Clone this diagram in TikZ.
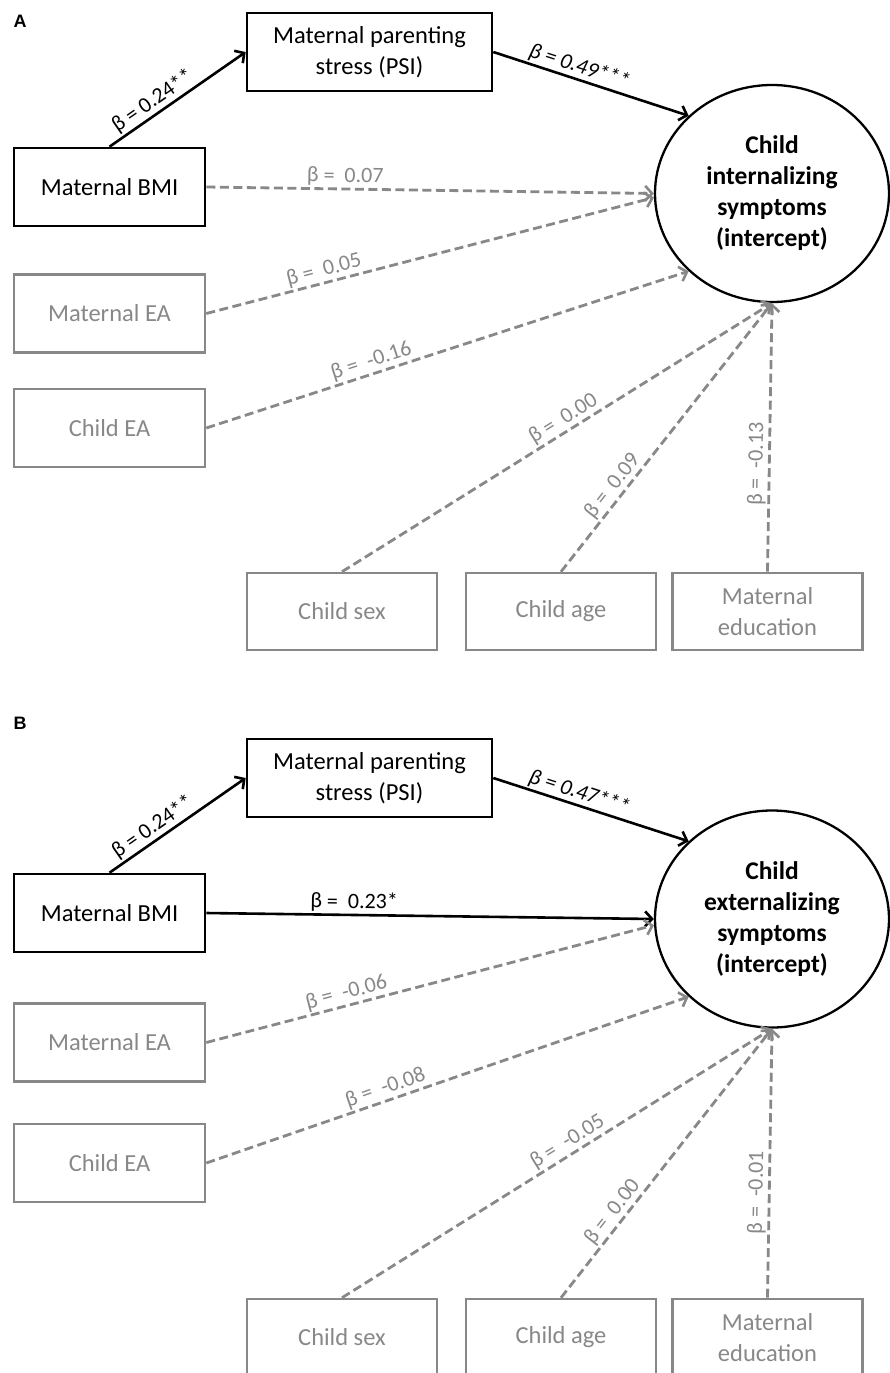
\documentclass[tikz,border=0pt]{standalone}
\usepackage{fontspec}
\setmainfont{Carlito}
\newfontfamily\arialf{Liberation Sans}
\usetikzlibrary{shapes.geometric,arrows.meta}
\definecolor{gry}{RGB}{136,136,136}
\begin{document}
\begin{tikzpicture}[x=1pt,y=-1pt,
 box/.style={draw, line width=2.6pt, minimum width=191pt, minimum height=78pt, inner sep=0pt, align=center, font=\fontsize{24.5}{31}\selectfont},
 gbox/.style={box, draw=gry, text=gry},
 ell/.style={ellipse, draw, line width=2.3pt, minimum width=234pt, minimum height=217pt, inner sep=0pt, align=center, font=\fontsize{25.5}{31}\selectfont\bfseries},
 sarr/.style={line width=2.6pt, -{Straight Barb[length=7pt,width=15pt,line width=2.6pt]}},
 darr/.style={sarr, draw=gry, line width=2.8pt, dash pattern=on 9pt off 4.5pt},
 lbl/.style={sloped, above, inner sep=1.5pt, font=\fontsize{22}{26}\selectfont},
 glbl/.style={lbl, text=gry},
 plab/.style={font=\arialf\bfseries\fontsize{18}{18}\selectfont},
]
\useasboundingbox (0,0) rectangle (890,1373);
\fill[white] (0,0) rectangle (890,1373);

% ---------------- Panel A ----------------
\node[plab] (labA) at (20,21) {A};
\node[box, minimum width=245pt] (psiA) at (369.5,52) {Maternal parenting\\stress (PSI)};
\node[box] (bmiA) at (109.5,187) {Maternal BMI};
\node[gbox] (meaA) at (109.5,313.5) {Maternal EA};
\node[gbox] (ceaA) at (109.5,428) {Child EA};
\node[gbox, minimum width=190pt, minimum height=77pt] (csA) at (342,611.5) {Child sex};
\node[gbox, minimum width=190pt, minimum height=77pt] (caA) at (561,611.5) {Child age};
\node[gbox, minimum width=190pt, minimum height=77pt] (medA) at (767.5,611.5) {Maternal\\education};
\node[ell] (ellA) at (772,193.5) {Child\\internalizing\\symptoms\\(intercept)};

\draw[sarr] (bmiA.north) -- node[lbl, pos=0.37] {β = 0.24**} (psiA.west);
\draw[sarr] (psiA.east) -- node[lbl, pos=0.42] {\itshape β = 0.49***} (ellA.137);
\draw[darr] (bmiA.east) -- node[glbl, pos=0.31] {β =\ \ 0.07} (ellA.west);
\draw[darr] (meaA.east) -- node[glbl, pos=0.27] {β =\ \ 0.05} (ellA.182);
\draw[darr] (ceaA.east) -- node[glbl, pos=0.35] {β =\ \ -0.16} (ellA.223);
\draw[darr] (csA.north) -- node[glbl, pos=0.53] {β =\ \ 0.00} (ellA.south);
\draw[darr] (caA.north) -- node[glbl, pos=0.29] {β =\ \ 0.09} (ellA.south);
\draw[darr] (medA.north) -- node[glbl, pos=0.40] {β =\ \ -0.13} (ellA.south);

% ---------------- Panel B ----------------
\node[plab] (labB) at (20,723) {B};
\node[box, minimum width=245pt] (psiB) at (369.5,778) {Maternal parenting\\stress (PSI)};
\node[box] (bmiB) at (109.5,913) {Maternal BMI};
\node[gbox] (meaB) at (109.5,1042.5) {Maternal EA};
\node[gbox] (ceaB) at (109.5,1163) {Child EA};
\node[gbox, minimum width=190pt, minimum height=77pt] (csB) at (342,1337.5) {Child sex};
\node[gbox, minimum width=190pt, minimum height=77pt] (caB) at (561,1337.5) {Child age};
\node[gbox, minimum width=190pt, minimum height=77pt] (medB) at (767.5,1337.5) {Maternal\\education};
\node[ell] (ellB) at (772,919) {Child\\externalizing\\symptoms\\(intercept)};

\draw[sarr] (bmiB.north) -- node[lbl, pos=0.37] {β = 0.24**} (psiB.west);
\draw[sarr] (psiB.east) -- node[lbl, pos=0.42] {\itshape β = 0.47***} (ellB.137);
\draw[sarr] (bmiB.east) -- node[lbl, pos=0.33] {β =\ \ 0.23*} (ellB.west);
\draw[darr] (meaB.east) -- node[glbl, pos=0.32] {β =\ \ -0.06} (ellB.183);
\draw[darr] (ceaB.east) -- node[glbl, pos=0.38] {β =\ \ -0.08} (ellB.223);
\draw[darr] (csB.north) -- node[glbl, pos=0.54] {β =\ \ -0.05} (ellB.south);
\draw[darr] (caB.north) -- node[glbl, pos=0.29] {β =\ \ 0.00} (ellB.south);
\draw[darr] (medB.north) -- node[glbl, pos=0.39] {β =\ \ -0.01} (ellB.south);
\end{tikzpicture}
\end{document}
